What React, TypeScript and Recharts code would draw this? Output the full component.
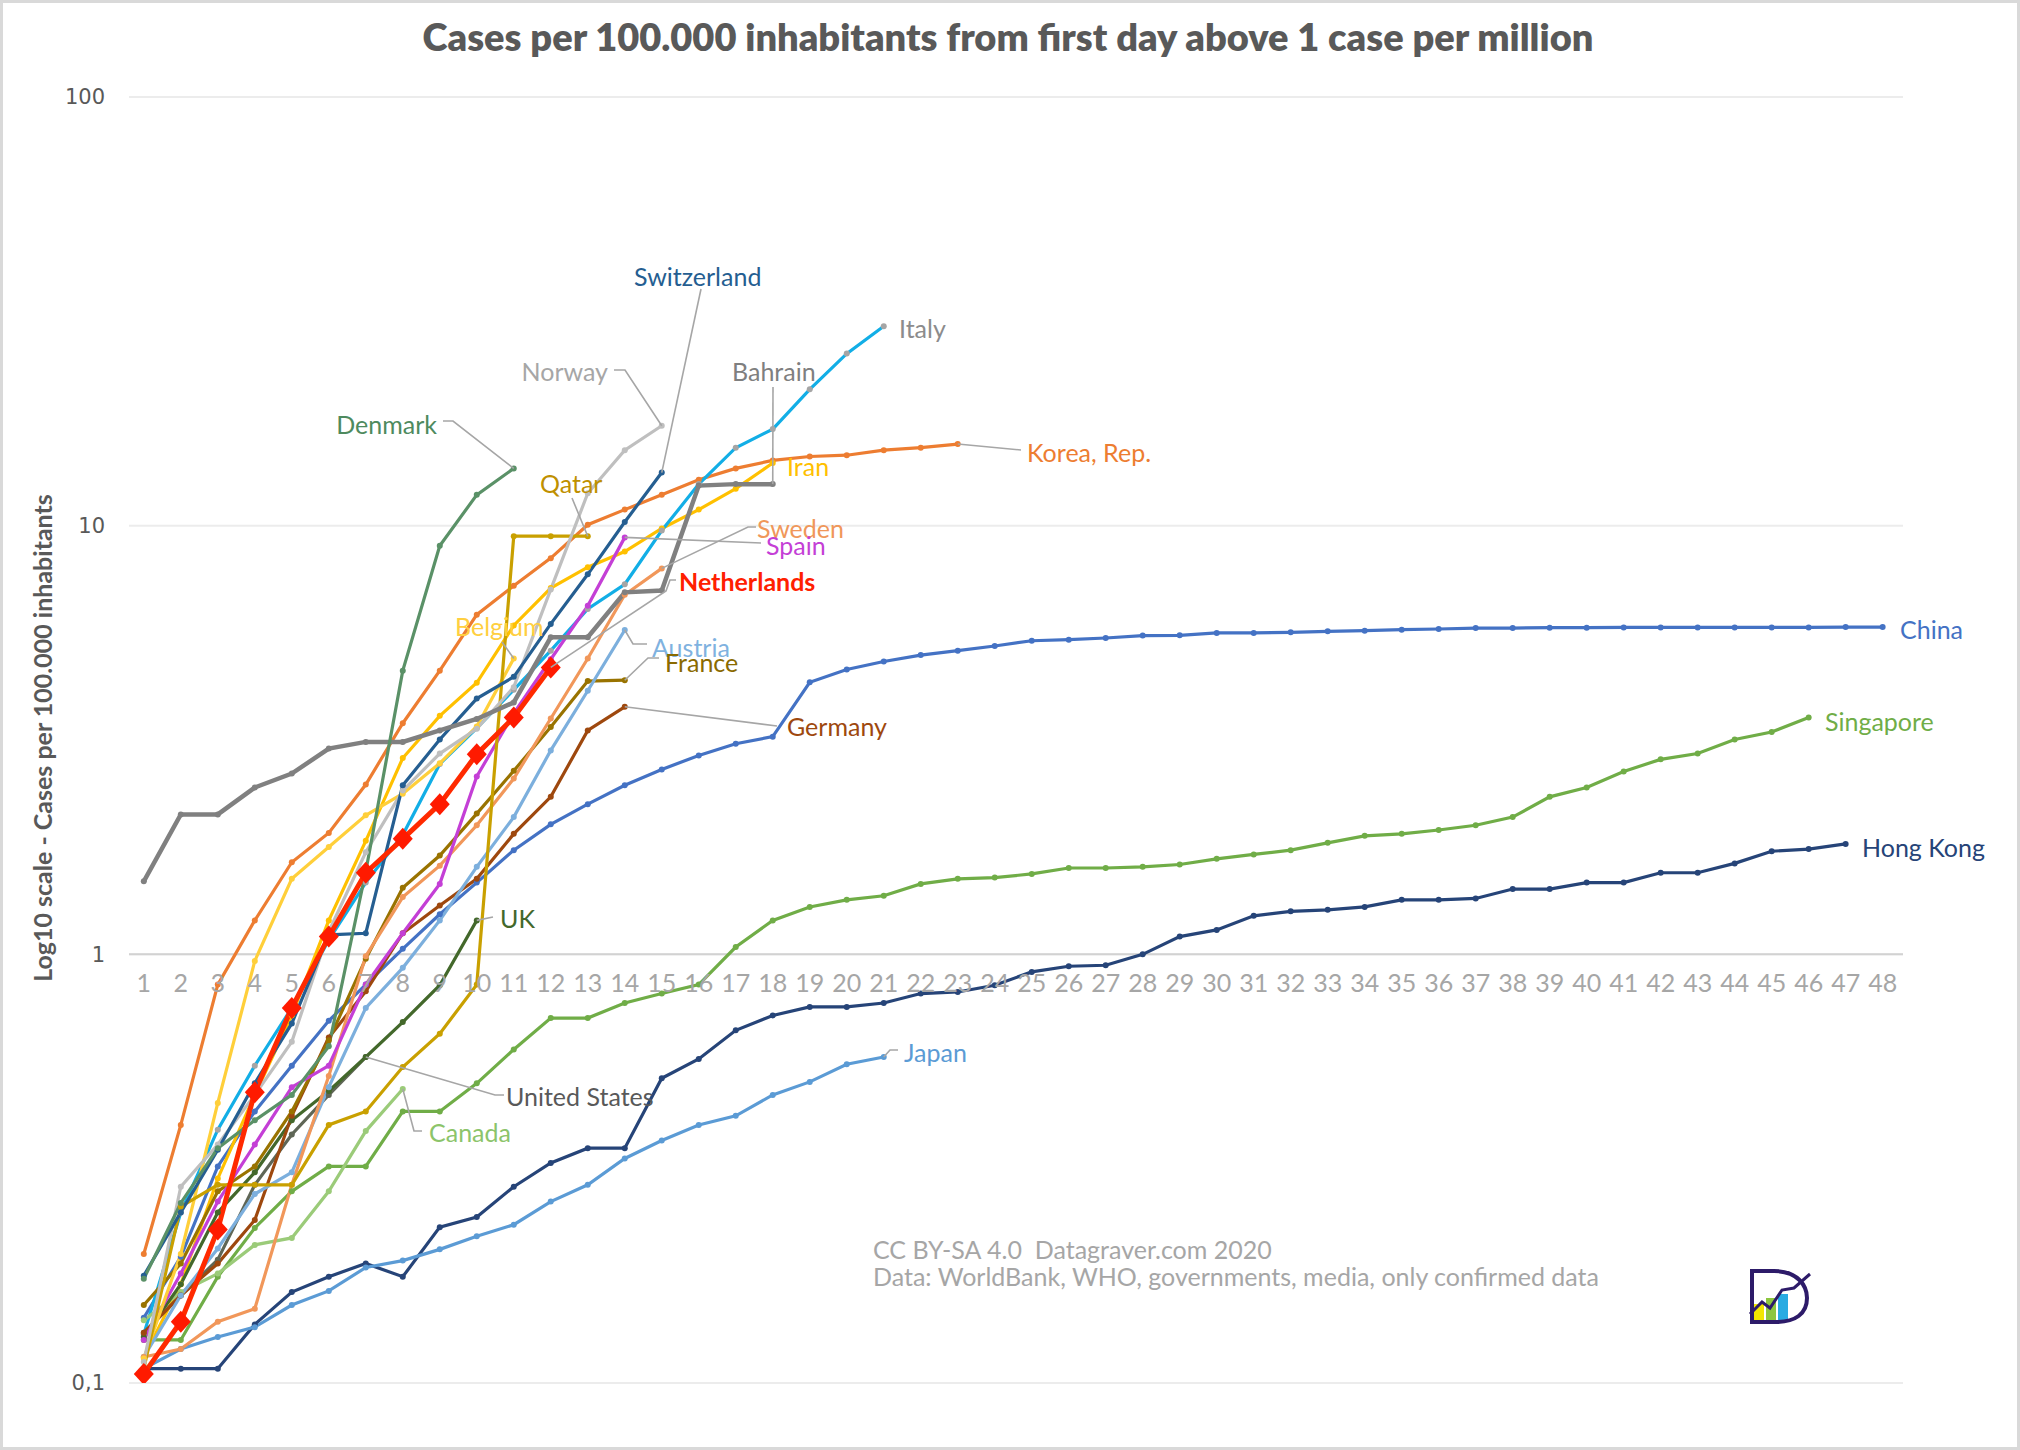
import { LineChart, Line, XAxis, YAxis, CartesianGrid, ReferenceLine } from 'recharts';

// days since first day above 1 case per million
const days = Array.from({ length: 48 }, (_, i) => i + 1);

// cases per 100.000 inhabitants, one value per day
const italy = [0.13, 0.25, 0.39, 0.55, 0.75, 1.08, 1.47, 1.9, 2.78, 3.37, 4.14, 5.11, 6.39, 7.3, 9.74, 12.5, 15.2, 16.8, 20.8, 25.2, 29.2];
const korea = [0.2, 0.4, 0.85, 1.2, 1.64, 1.92, 2.49, 3.46, 4.59, 6.2, 7.24, 8.4, 10.05, 10.9, 11.8, 12.8, 13.6, 14.2, 14.5, 14.6, 15.0, 15.2, 15.5];
const iran = [0.115, 0.17, 0.3, 0.47, 0.72, 1.2, 1.84, 2.87, 3.6, 4.3, 5.85, 7.15, 8.0, 8.7, 9.85, 10.9, 12.2, 14.0];
const china = [0.142, 0.197, 0.32, 0.43, 0.55, 0.7, 0.85, 1.03, 1.24, 1.47, 1.75, 2.01, 2.24, 2.48, 2.7, 2.91, 3.1, 3.22, 4.31, 4.62, 4.82, 4.99, 5.11, 5.24, 5.39, 5.42, 5.47, 5.54, 5.55, 5.62, 5.62, 5.64, 5.67, 5.69, 5.72, 5.74, 5.77, 5.77, 5.78, 5.78, 5.79, 5.79, 5.79, 5.79, 5.79, 5.79, 5.8, 5.8];
const singapore = [0.126, 0.126, 0.177, 0.23, 0.28, 0.32, 0.32, 0.43, 0.43, 0.5, 0.6, 0.71, 0.71, 0.77, 0.81, 0.85, 1.04, 1.2, 1.29, 1.34, 1.37, 1.46, 1.5, 1.51, 1.54, 1.59, 1.59, 1.6, 1.62, 1.67, 1.71, 1.75, 1.82, 1.89, 1.91, 1.95, 2.0, 2.09, 2.33, 2.45, 2.67, 2.85, 2.94, 3.17, 3.3, 3.57];
const hongKong = [0.108, 0.108, 0.108, 0.137, 0.163, 0.177, 0.19, 0.177, 0.231, 0.244, 0.287, 0.326, 0.353, 0.353, 0.514, 0.57, 0.665, 0.72, 0.754, 0.754, 0.77, 0.81, 0.817, 0.847, 0.91, 0.938, 0.943, 1.0, 1.1, 1.14, 1.23, 1.26, 1.27, 1.29, 1.34, 1.34, 1.35, 1.42, 1.42, 1.47, 1.47, 1.55, 1.55, 1.63, 1.74, 1.76, 1.81];
const japan = [0.108, 0.12, 0.128, 0.135, 0.152, 0.164, 0.186, 0.193, 0.205, 0.22, 0.234, 0.265, 0.29, 0.334, 0.368, 0.4, 0.42, 0.47, 0.504, 0.554, 0.576];
const germany = [0.131, 0.16, 0.19, 0.24, 0.42, 0.64, 0.82, 1.12, 1.3, 1.5, 1.91, 2.33, 3.33, 3.78];
const france = [0.152, 0.19, 0.28, 0.32, 0.43, 0.63, 0.977, 1.43, 1.7, 2.13, 2.68, 3.39, 4.34, 4.36];
const austria = [0.115, 0.16, 0.206, 0.276, 0.31, 0.49, 0.75, 0.93, 1.2, 1.6, 2.09, 2.99, 4.12, 5.71];
const spain = [0.126, 0.18, 0.265, 0.36, 0.49, 0.55, 0.85, 1.12, 1.46, 2.6, 3.65, 4.88, 6.5, 9.39];
const sweden = [0.115, 0.12, 0.139, 0.149, 0.29, 0.52, 0.99, 1.36, 1.61, 2.0, 2.57, 3.55, 4.9, 6.9, 7.95];
const bahrain = [1.48, 2.12, 2.12, 2.45, 2.64, 3.02, 3.13, 3.13, 3.33, 3.54, 3.87, 5.49, 5.49, 6.99, 7.06, 12.4, 12.5, 12.5];
const switzerland = [0.178, 0.25, 0.35, 0.5, 0.69, 1.11, 1.12, 2.48, 3.17, 3.95, 4.44, 5.9, 7.7, 10.2, 13.3];
const norway = [0.112, 0.287, 0.36, 0.47, 0.625, 1.13, 1.73, 2.41, 2.94, 3.36, 4.2, 7.1, 11.9, 15.0, 17.1];
const qatar = [0.108, 0.258, 0.29, 0.29, 0.29, 0.4, 0.43, 0.546, 0.653, 0.85, 9.45, 9.45, 9.45];
const denmark = [0.175, 0.263, 0.353, 0.41, 0.47, 0.61, 1.56, 4.59, 8.98, 11.8, 13.6];
const belgium = [0.114, 0.2, 0.45, 0.965, 1.5, 1.78, 2.11, 2.37, 2.79, 3.4, 4.9];
const uk = [0.128, 0.17, 0.25, 0.31, 0.41, 0.48, 0.576, 0.695, 0.847, 1.2];
const unitedStates = [0.131, 0.16, 0.194, 0.29, 0.38, 0.47, 0.576];
const canada = [0.14, 0.163, 0.18, 0.21, 0.218, 0.28, 0.387, 0.485];
const netherlands = [0.105, 0.139, 0.228, 0.477, 0.75, 1.1, 1.55, 1.86, 2.24, 2.93, 3.57, 4.67];

const yTicks = [0.1, 1, 10, 100];

const W = 2020;
const H = 1450;
const PLOT = { left: 129, right: 1903, top: 97, bottom: 1383 };
const X_DOMAIN: [number, number] = [0.6, 48.55];
const X_AXIS_H = 30;
const FONT = 'Lato, "Open Sans", sans-serif';

const series = [
  { key: 'China', values: china, color: '#4472c4' },
  { key: 'Singapore', values: singapore, color: '#70ad47' },
  { key: 'Hong Kong', values: hongKong, color: '#264478' },
  { key: 'Japan', values: japan, color: '#5b9bd5' },
  { key: 'Korea, Rep.', values: korea, color: '#ed7d31' },
  { key: 'Iran', values: iran, color: '#ffc000' },
  { key: 'Italy', values: italy, color: '#12aee6', dot: '#a5a5a5' },
  { key: 'Canada', values: canada, color: '#9bcb79' },
  { key: 'United States', values: unitedStates, color: '#5f6656' },
  { key: 'UK', values: uk, color: '#43682b' },
  { key: 'Germany', values: germany, color: '#9e480e' },
  { key: 'France', values: france, color: '#997300' },
  { key: 'Austria', values: austria, color: '#7cafdd' },
  { key: 'Sweden', values: sweden, color: '#f1975a' },
  { key: 'Spain', values: spain, color: '#c43fd6' },
  { key: 'Belgium', values: belgium, color: '#ffcf3a' },
  { key: 'Qatar', values: qatar, color: '#c9a000' },
  { key: 'Norway', values: norway, color: '#bfbfbf' },
  { key: 'Switzerland', values: switzerland, color: '#255e91' },
  { key: 'Bahrain', values: bahrain, color: '#808080', width: 4.5 },
  { key: 'Denmark', values: denmark, color: '#5a9167' },
];

const data = days.map((day, i) => {
  const row: Record<string, number> = { day };
  [...series, { key: 'Netherlands', values: netherlands }].forEach((s) => {
    if (i < s.values.length) row[s.key] = s.values[i];
  });
  return row;
});

const xPix = (d: number) => PLOT.left + ((d - X_DOMAIN[0]) / (X_DOMAIN[1] - X_DOMAIN[0])) * (PLOT.right - PLOT.left);
const yPix = (v: number) => PLOT.top + ((2 - Math.log10(v)) / 3) * (PLOT.bottom - PLOT.top);

const lastPoint = (values: number[]): [number, number] => [xPix(values.length), yPix(values[values.length - 1])];

// country labels with their leader lines
const notes = [
  { text: 'Switzerland', x: 634, y: 276, color: '#255e91', end: switzerland, path: [[701, 289]] },
  { text: 'Italy', x: 899, y: 328, color: '#8c8c8c' },
  { text: 'Norway', x: 608, y: 371, color: '#a6a6a6', anchor: 'end', end: norway, path: [[625, 370], [614, 370]] },
  { text: 'Bahrain', x: 732, y: 371, color: '#7f7f7f', end: bahrain, path: [[773, 387]] },
  { text: 'Denmark', x: 437, y: 424, color: '#4e8a5e', anchor: 'end', end: denmark, path: [[453, 421], [443, 421]] },
  { text: 'Qatar', x: 540, y: 483, color: '#bf9000', end: qatar, path: [[572, 498]] },
  { text: 'Korea, Rep.', x: 1027, y: 452, color: '#ed7d31', end: korea, path: [[1021, 450]] },
  { text: 'Iran', x: 787, y: 466, color: '#ffc000' },
  { text: 'Sweden', x: 757, y: 528, color: '#f0975a', end: sweden, path: [[748, 527], [756, 527]] },
  { text: 'Spain', x: 766, y: 545, color: '#c43fd6', end: spain, path: [[761, 543]] },
  { text: 'Netherlands', x: 679, y: 581, color: '#ff2000', bold: true, end: netherlands, path: [[666, 591], [670, 580], [676, 580]] },
  { text: 'Belgium', x: 455, y: 626, color: '#ffcf40', end: belgium, path: [[502, 642]] },
  { text: 'Austria', x: 652, y: 647, color: '#7fb2e0', end: austria, path: [[633, 644], [647, 644]] },
  { text: 'France', x: 665, y: 662, color: '#8a6a00', end: france, path: [[648, 658], [659, 658]] },
  { text: 'China', x: 1900, y: 629, color: '#4472c4' },
  { text: 'Germany', x: 787, y: 726, color: '#9e480e', end: germany, path: [[777, 726]] },
  { text: 'Singapore', x: 1825, y: 721, color: '#70ad47' },
  { text: 'Hong Kong', x: 1862, y: 847, color: '#264478' },
  { text: 'UK', x: 500, y: 918, color: '#43682b', end: uk, path: [[493, 917]] },
  { text: 'United States', x: 506, y: 1096, color: '#595959', end: unitedStates, path: [[495, 1095], [504, 1095]] },
  { text: 'Canada', x: 429, y: 1132, color: '#8cc46a', end: canada, path: [[414, 1131], [422, 1131]] },
  { text: 'Japan', x: 904, y: 1052, color: '#5b9bd5', end: japan, path: [[890, 1050], [898, 1050]] },
];

// day labels sit just under the "1" gridline, not at the bottom of the plot
const XTick = (props: any) => {
  const { x, payload } = props;
  return (
    <text x={x} y={yPix(1) + 38} textAnchor="middle" fill="#a6a6a6" fontSize={25} fontFamily={FONT}>
      {payload.value}
    </text>
  );
};

const Diamond = (props: any) => {
  const { cx, cy, index } = props;
  if (cx == null || cy == null) return <g key={index} />;
  return <path key={index} d={`M${cx},${cy - 11}L${cx + 10},${cy}L${cx},${cy + 11}L${cx - 10},${cy}Z`} fill="#ff1a00" />;
};

export default function App() {
  return (
    <div style={{ position: 'absolute', left: 0, top: 0, width: W, height: H, background: '#fff' }}>
      <LineChart
        width={W}
        height={H}
        data={data}
        margin={{ top: PLOT.top, right: W - PLOT.right, bottom: H - PLOT.bottom - X_AXIS_H, left: PLOT.left - 60 }}
      >
        <CartesianGrid vertical={false} stroke="#ececec" strokeWidth={2} />
        <XAxis
          dataKey="day"
          type="number"
          domain={X_DOMAIN}
          ticks={days}
          interval={0}
          allowDataOverflow
          axisLine={false}
          tickLine={false}
          height={X_AXIS_H}
          tick={(p: any) => <XTick key={p.index} {...p} />}
        />
        <YAxis
          scale="log"
          domain={[0.1, 100]}
          ticks={yTicks}
          allowDataOverflow
          width={60}
          axisLine={false}
          tickLine={false}
          tickMargin={18}
          tickFormatter={(v: number) => (v < 1 ? '0,1' : String(v))}
          tick={{ fill: '#595959', fontSize: 21, fontFamily: '"DejaVu Sans", sans-serif' }}
        />
        <ReferenceLine y={1} stroke="#d2d2d2" strokeWidth={2} />
        {series.map((s) => (
          <Line
            key={s.key}
            dataKey={s.key}
            type="linear"
            stroke={s.color}
            strokeWidth={s.width ?? 3.2}
            dot={{ r: 3, fill: s.dot ?? s.color, stroke: 'none' }}
            activeDot={false}
            isAnimationActive={false}
          />
        ))}
        <Line
          dataKey="Netherlands"
          type="linear"
          stroke="#ff2a00"
          strokeWidth={5}
          dot={<Diamond />}
          activeDot={false}
          isAnimationActive={false}
        />
      </LineChart>
      <svg width={W} height={H} style={{ position: 'absolute', left: 0, top: 0, pointerEvents: 'none' }}>
        <rect x={1.5} y={1.5} width={W - 3} height={H - 3} fill="none" stroke="#d9d9d9" strokeWidth={3} />
        <text x={1008} y={36} textAnchor="middle" dominantBaseline="central" fill="#595959" fontSize={38} fontWeight={800} fontFamily={FONT}>
          Cases per 100.000 inhabitants from first day above 1 case per million
        </text>
        <text
          transform="translate(42,738) rotate(-90)"
          textAnchor="middle"
          dominantBaseline="central"
          fill="#595959"
          fontSize={25}
          fontWeight={700}
          fontFamily={FONT}
        >
          Log10 scale - Cases per 100.000 inhabitants
        </text>
        {notes.map((n) => {
          const pts = n.end ? [lastPoint(n.end), ...(n.path as number[][])] : [];
          return (
            <g key={n.text}>
              {pts.length > 1 && (
                <polyline points={pts.map((p) => p.join(',')).join(' ')} fill="none" stroke="#a6a6a6" strokeWidth={1.6} />
              )}
              <text
                x={n.x}
                y={n.y}
                textAnchor={n.anchor ?? 'start'}
                dominantBaseline="central"
                fill={n.color}
                fontSize={25}
                fontWeight={n.bold ? 700 : 400}
                fontFamily={FONT}
              >
                {n.text}
              </text>
            </g>
          );
        })}
        <text x={873} y={1249} dominantBaseline="central" fill="#a6a6a6" fontSize={25} fontFamily={FONT} style={{ whiteSpace: 'pre' }}>
          {'CC BY-SA 4.0\u00a0\u00a0Datagraver.com 2020'}
        </text>
        <text x={873} y={1276} dominantBaseline="central" fill="#a6a6a6" fontSize={25} fontFamily={FONT}>
          Data: WorldBank, WHO, governments, media, only confirmed data
        </text>
        <g transform="translate(1748,1268)">
          <rect x={6} y={36} width={10} height={18} fill="#f2e600" />
          <rect x={18} y={30} width={10} height={24} fill="#8dc63f" />
          <rect x={30} y={26} width={10} height={28} fill="#29abe2" />
          <path d="M4,3 L26,3 C50,3 59,18 59,30 C59,46 47,54 28,54 L4,54 Z" fill="none" stroke="#2d1b69" strokeWidth={4} />
          <path d="M2,46 L14,34 L22,40 L34,22 L46,20 L62,6" fill="none" stroke="#2d1b69" strokeWidth={3} />
        </g>
      </svg>
    </div>
  );
}
